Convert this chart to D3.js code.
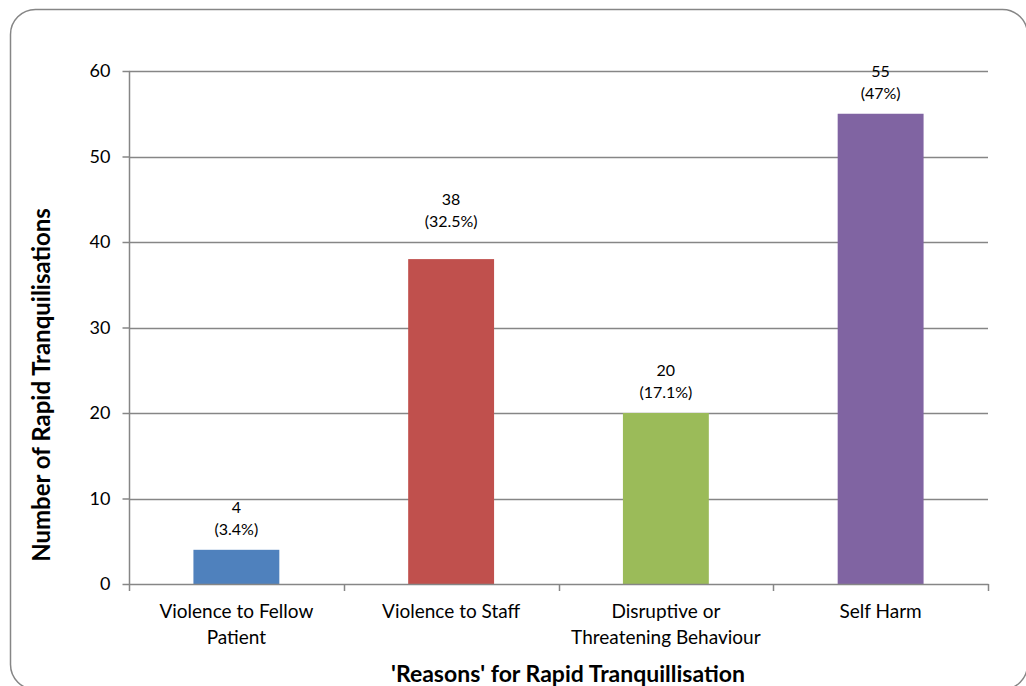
<!DOCTYPE html>
<html><head><meta charset="utf-8">
<script src="https://cdn.jsdelivr.net/npm/d3@7"></script>
<style>body{margin:0;background:#fff}svg{display:block}text{font-family:Lato,"Open Sans",sans-serif;fill:#000}</style>
</head><body>
<script>
const categories = [["Violence to Fellow","Patient"],["Violence to Staff"],["Disruptive or","Threatening Behaviour"],["Self Harm"]];
const values = [4,38,20,55];
const percents = ["3.4%","32.5%","17.1%","47%"];
const colors = ["#4F81BD","#C0504D","#9BBB59","#8064A2"];
const yTicks = [0,10,20,30,40,50,60];

const W=1026,H=686;
const svg=d3.select("body").append("svg").attr("width",W).attr("height",H);
svg.append("rect").attr("x",10.5).attr("y",9.5).attr("width",1017).attr("height",680).attr("rx",25)
  .attr("fill","#fff").attr("stroke","#868686").attr("stroke-width",1.5);

const L=129,R=988,T=71,B=584;
const x=d3.scaleBand().domain(d3.range(values.length)).range([L,R]).paddingInner(0.6).paddingOuter(0.3);
const y=d3.scaleLinear().domain([0,60]).range([B,T]);

// gridlines
svg.append("g").selectAll("line").data(yTicks.filter(d=>d>0)).join("line")
  .attr("x1",L).attr("x2",R).attr("y1",d=>Math.round(y(d))+0.5).attr("y2",d=>Math.round(y(d))+0.5)
  .attr("stroke","#868686").attr("stroke-width",1.5);

// y axis
const ya=svg.append("g").attr("transform",`translate(${L+0.5},0)`)
  .call(d3.axisLeft(y).tickValues(yTicks).tickSize(7).tickPadding(12));
ya.select(".domain").attr("stroke","#868686").attr("stroke-width",1.5).attr("d",`M0,${T}V${B}`);
ya.selectAll(".tick line").attr("stroke","#868686").attr("stroke-width",1.5);
ya.selectAll(".tick text").style("font-size","18px").attr("fill","#000");

// bars
svg.append("g").selectAll("rect").data(values).join("rect")
  .attr("x",(d,i)=>x(i)).attr("width",x.bandwidth())
  .attr("y",d=>y(d)).attr("height",d=>B-y(d)).attr("fill",(d,i)=>colors[i]);

// x axis
const xa=svg.append("g");
xa.append("line").attr("x1",L).attr("x2",R+0.5).attr("y1",B+0.5).attr("y2",B+0.5).attr("stroke","#868686").attr("stroke-width",1.5);
xa.selectAll("line.tk").data(d3.range(values.length+1)).join("line").attr("class","tk")
  .attr("x1",i=>Math.round(L+i*(R-L)/values.length)+0.5).attr("x2",i=>Math.round(L+i*(R-L)/values.length)+0.5)
  .attr("y1",B).attr("y2",B+7).attr("stroke","#868686").attr("stroke-width",1.5);
categories.forEach((lines,i)=>{
  const cx=x(i)+x.bandwidth()/2;
  const t=svg.append("text").attr("text-anchor","middle").style("font-size","19px").attr("x",cx).attr("y",618);
  lines.forEach((s,j)=>t.append("tspan").attr("x",cx).attr("dy",j?26:0).text(s));
});

// data labels (label for second bar sits higher in the original)
values.forEach((v,i)=>{
  const cx=x(i)+x.bandwidth()/2;
  const shift = i===1 ? 17 : 0;
  svg.append("text").attr("text-anchor","middle").style("font-size","16px").attr("x",cx).attr("y",y(v)-37-shift).text(v);
  svg.append("text").attr("text-anchor","middle").style("font-size","16px").attr("x",cx).attr("y",y(v)-15-shift).text("("+percents[i]+")");
});

// axis titles
svg.append("text").attr("text-anchor","middle").style("font-size","23px").style("font-weight","bold")
  .attr("x",568).attr("y",682).text("'Reasons' for Rapid Tranquillisation");
svg.append("text").attr("text-anchor","middle").style("font-size","24px").style("font-weight","bold")
  .attr("transform",`translate(50,385) rotate(-90)`).text("Number of Rapid Tranquilisations");
</script>
</body></html>
